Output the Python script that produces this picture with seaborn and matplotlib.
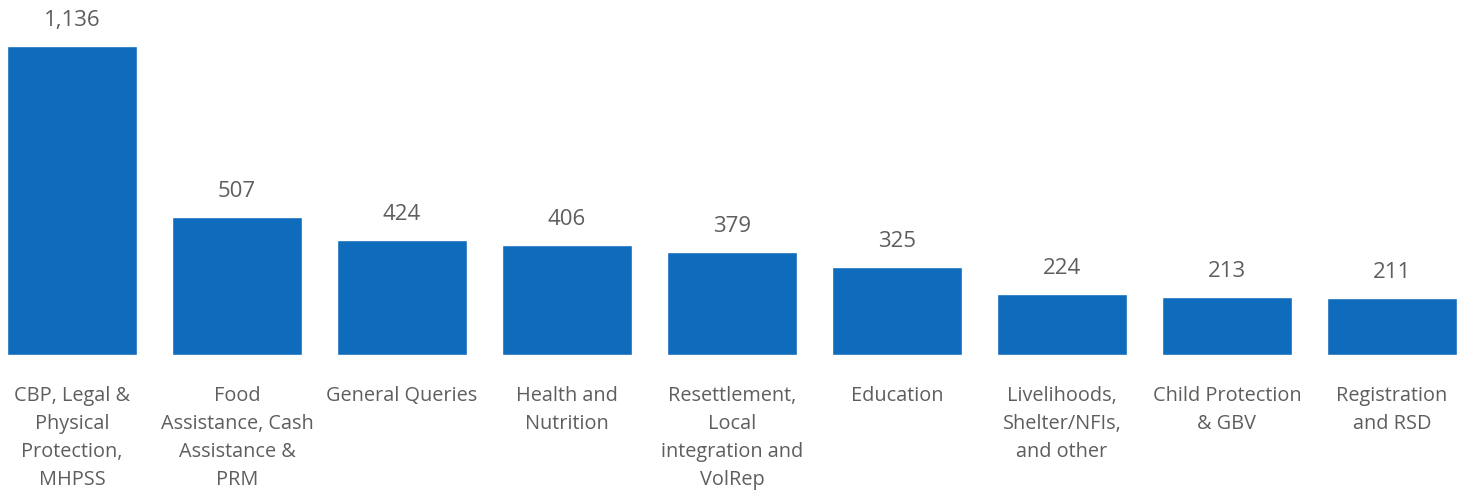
import matplotlib
matplotlib.use("Agg")
import matplotlib.pyplot as plt
import seaborn as sns
import pandas as pd

categories = [
    "CBP, Legal & Physical Protection, MHPSS",
    "Food Assistance, Cash Assistance & PRM",
    "General Queries",
    "Health and Nutrition",
    "Resettlement, Local integration and VolRep",
    "Education",
    "Livelihoods, Shelter/NFIs, and other",
    "Child Protection & GBV",
    "Registration and RSD",
]
tick_labels = [
    "CBP, Legal &\nPhysical\nProtection,\nMHPSS",
    "Food\nAssistance, Cash\nAssistance &\nPRM",
    "General Queries",
    "Health and\nNutrition",
    "Resettlement,\nLocal\nintegration and\nVolRep",
    "Education",
    "Livelihoods,\nShelter/NFIs,\nand other",
    "Child Protection\n& GBV",
    "Registration\nand RSD",
]
values = [1136, 507, 424, 406, 379, 325, 224, 213, 211]

sns.set_theme(style="white")
plt.rcParams["font.family"] = ["Open Sans", "DejaVu Sans"]

W, H = 1469, 491
fig = plt.figure(figsize=(W / 100, H / 100), dpi=100)
ax = fig.add_axes([0, (H - 355) / H, 1, 355 / H])

df = pd.DataFrame({"cat": categories, "val": values})
sns.barplot(data=df, x="cat", y="val", color="#0F6CBD", saturation=1,
            width=0.788, ax=ax)

ax.set_xlim(-0.436, 8.467)
ax.set_ylim(0, 1305)
for i, v in enumerate(values):
    ax.annotate(f"{v:,}", (i, v), xytext=(0, 10.5), textcoords="offset points",
                ha="center", va="bottom", fontsize=16, color="#605E5C")

ax.set_xticks(range(len(categories)))
ax.set_xticklabels(tick_labels, fontsize=14.3, color="#605E5C",
                   va="top", linespacing=1.53)
ax.tick_params(axis="x", length=0, pad=22.5)
ax.set_yticks([])
ax.set_xlabel("")
ax.set_ylabel("")
for s in ax.spines.values():
    s.set_visible(False)

fig.savefig("out.png", dpi=100)
